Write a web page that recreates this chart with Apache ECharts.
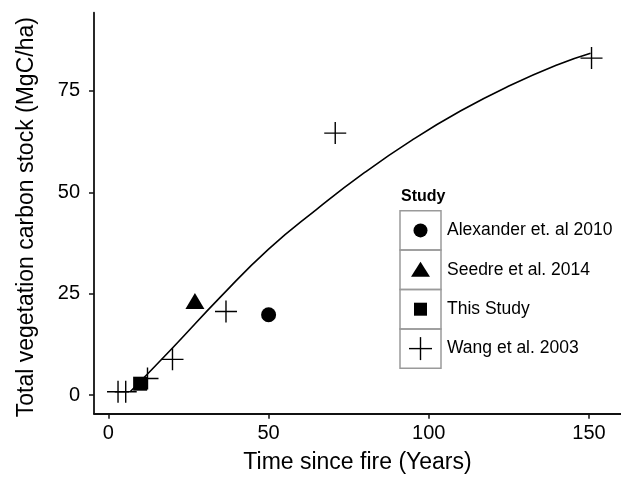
<!DOCTYPE html>
<html>
<head>
<meta charset="utf-8">
<script src="https://cdn.jsdelivr.net/npm/echarts@6/dist/echarts.min.js"></script>
<style>
  html, body { margin: 0; padding: 0; background: #fff; }
  #chart { width: 621px; height: 483px; }
</style>
</head>
<body>
<div id="chart"></div>
<script>
// points: [time since fire, carbon stock]
const alexander = [[50, 19.8]]
const seedre = [[27, 23.2]]
const thisStudy = [[9.9, 2.8]]
const wang = [[3, 0.8], [5.4, 0.8], [12.2, 4.1], [20, 8.8], [36.7, 20.6], [70.8, 64.6], [150.8, 83.1]]

// fitted curve
const curveX = [6.8, 20, 35, 50, 65, 80, 95, 110, 125, 140, 150.5]
const curveY = [0.8, 11.6, 24.2, 36.0, 45.8, 54.9, 63.0, 70.1, 76.2, 81.4, 84.3]

const xTicks = [0, 50, 100, 150]
const yTicks = [0, 25, 50, 75]
const legendNames = ['Alexander et. al 2010', 'Seedre et al. 2014', 'This Study', 'Wang et al. 2003']

const FONT = '"Liberation Sans", Arial, sans-serif'
const crossPath = 'path://M0,10.3H22V11.7H0Z M10.3,0H11.7V22H10.3Z'

const chart = echarts.init(document.getElementById('chart'))

// legend drawn as a boxed key, like the original figure
const legendLeft = 400
const legendTop = 210.7
const cellW = 41
const cellH = 39.4
const iconX = legendLeft + cellW / 2
const legendItems = [
  { type: 'text', style: { text: 'Study', x: 401, y: 197, font: 'bold 16px ' + FONT, fill: '#000', verticalAlign: 'middle' } }
]
legendNames.forEach((name, i) => {
  const cy = legendTop + cellH * i + cellH / 2
  legendItems.push({
    type: 'rect',
    shape: { x: legendLeft, y: legendTop + cellH * i, width: cellW, height: cellH },
    style: { fill: 'none', stroke: '#9a9a9a', lineWidth: 1.5 }
  })
  legendItems.push({
    type: 'text',
    style: { text: name, x: 447, y: cy, font: '17.5px ' + FONT, fill: '#000', verticalAlign: 'middle' }
  })
  if (i === 0) {
    legendItems.push({ type: 'circle', shape: { cx: iconX, cy: cy, r: 7 }, style: { fill: '#000' } })
  } else if (i === 1) {
    legendItems.push({ type: 'polygon', shape: { points: [[iconX - 9.5, cy + 7], [iconX + 9.5, cy + 7], [iconX, cy - 8]] }, style: { fill: '#000' } })
  } else if (i === 2) {
    legendItems.push({ type: 'rect', shape: { x: iconX - 6.5, y: cy - 6.5, width: 13, height: 13 }, style: { fill: '#000' } })
  } else {
    legendItems.push({ type: 'line', shape: { x1: iconX - 11.5, y1: cy, x2: iconX + 11.5, y2: cy }, style: { stroke: '#000', lineWidth: 1.4 } })
    legendItems.push({ type: 'line', shape: { x1: iconX, y1: cy - 11.5, x2: iconX, y2: cy + 11.5 }, style: { stroke: '#000', lineWidth: 1.4 } })
  }
})

chart.setOption({
  animation: false,
  grid: {
    left: 94,
    right: 0,
    top: 12.7,
    bottom: 69.3
  },
  xAxis: {
    type: 'value',
    min: -4.5,
    max: 160,
    name: 'Time since fire (Years)',
    nameLocation: 'middle',
    nameGap: 37,
    nameTextStyle: { fontSize: 23, color: '#000', fontFamily: FONT },
    splitLine: { show: false },
    axisLine: { onZero: false, lineStyle: { color: '#111', width: 1.8 } },
    axisTick: { length: 5, lineStyle: { color: '#111', width: 1.5 }, customValues: xTicks },
    axisLabel: { margin: 10, fontSize: 20, color: '#000', fontFamily: FONT, customValues: xTicks }
  },
  yAxis: {
    type: 'value',
    min: -4.6,
    max: 94.3,
    name: 'Total vegetation carbon stock (MgC/ha)',
    nameLocation: 'middle',
    nameGap: 56,
    nameTextStyle: { fontSize: 23, color: '#000', fontFamily: FONT, padding: [0, 8, 0, 0] },
    splitLine: { show: false },
    axisLine: { show: true, onZero: false, lineStyle: { color: '#111', width: 1.8 } },
    axisTick: { show: true, length: 5, lineStyle: { color: '#111', width: 1.5 }, customValues: yTicks },
    axisLabel: { margin: 14, fontSize: 20, color: '#000', fontFamily: FONT, customValues: yTicks }
  },
  graphic: [{ type: 'group', children: legendItems }],
  series: [
    {
      name: 'Fit',
      type: 'line',
      smooth: true,
      showSymbol: false,
      z: 1,
      data: curveX.map((x, i) => [x, curveY[i]]),
      lineStyle: { color: '#000', width: 1.6 }
    },
    {
      name: legendNames[0],
      type: 'scatter',
      symbol: 'circle',
      symbolSize: 15,
      z: 3,
      data: alexander,
      itemStyle: { color: '#000', opacity: 1 }
    },
    {
      name: legendNames[1],
      type: 'scatter',
      symbol: 'triangle',
      symbolSize: [19, 16],
      z: 3,
      data: seedre,
      itemStyle: { color: '#000', opacity: 1 }
    },
    {
      name: legendNames[2],
      type: 'scatter',
      symbol: 'rect',
      symbolSize: 14,
      z: 3,
      data: thisStudy,
      itemStyle: { color: '#000', opacity: 1 }
    },
    {
      name: legendNames[3],
      type: 'scatter',
      symbol: crossPath,
      symbolSize: 22,
      z: 3,
      data: wang,
      itemStyle: { color: '#000', opacity: 1 }
    }
  ]
})
</script>
</body>
</html>
